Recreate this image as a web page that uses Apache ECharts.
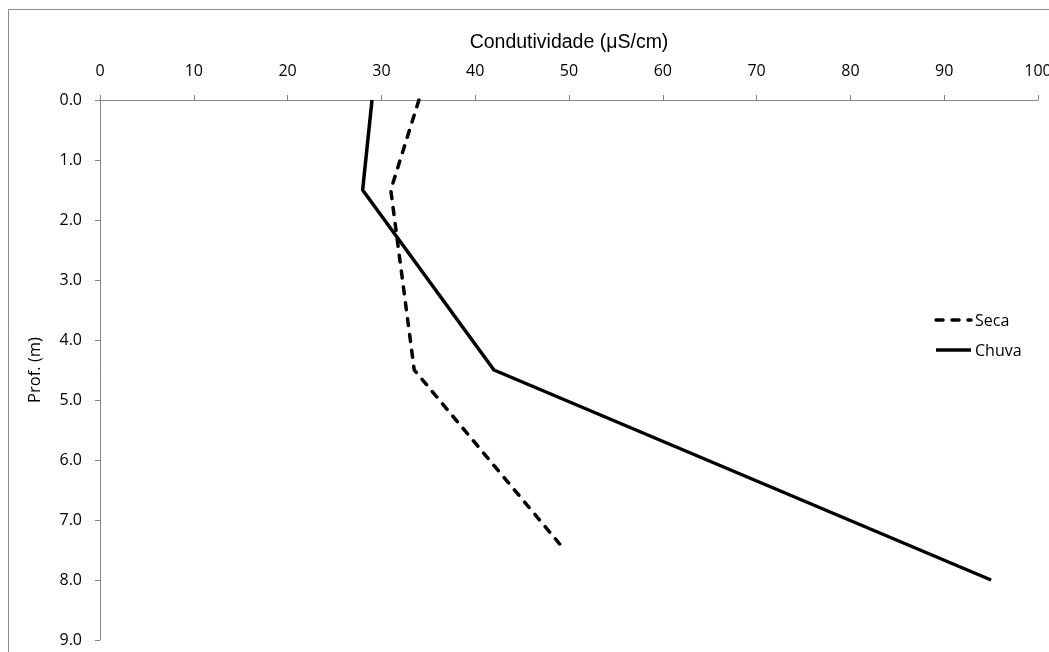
<!DOCTYPE html>
<html>
<head>
<meta charset="utf-8">
<script src="https://cdn.jsdelivr.net/npm/echarts@6/dist/echarts.min.js"></script>
<style>
  html, body { margin: 0; padding: 0; background: #fff; }
  #chart { width: 1049px; height: 652px; }
</style>
</head>
<body>
<div id="chart"></div>
<script>
// Depth profiles of electrical conductivity
const depthSeca = [0, 1.5, 4.5, 7.4];
const condSeca = [34, 31, 33.5, 49];
const depthChuva = [0, 1.5, 4.5, 8];
const condChuva = [29, 28, 42, 95];
const xTicks = [0, 10, 20, 30, 40, 50, 60, 70, 80, 90, 100];
const yTicks = [0, 1, 2, 3, 4, 5, 6, 7, 8, 9];
const seriesNames = ['Seca', 'Chuva'];

const pairs = (xs, ys) => xs.map((x, i) => [x, ys[i]]);

const axisGray = '#868686';
const labelFont = '"Open Sans", "DejaVu Sans", sans-serif';
const dashPattern = [7, 9];
const lineW = 3.5;

// Hand-drawn legend: a line sample followed by the series name
function legendItem(name, y, dashed) {
  return [
    {
      type: 'line',
      shape: { x1: 936, y1: y, x2: 971, y2: y },
      style: { stroke: '#000', lineWidth: lineW, lineDash: dashed ? dashPattern : null, lineCap: dashed ? 'round' : 'butt' },
      silent: true
    },
    {
      type: 'text',
      x: 975,
      y: y + 1,
      style: { text: name, font: '16px ' + labelFont, fill: '#000', verticalAlign: 'middle', align: 'left' },
      silent: true
    }
  ];
}

const chart = echarts.init(document.getElementById('chart'), null, { renderer: 'canvas' });
chart.setOption({
  animation: false,
  backgroundColor: '#fff',
  grid: { left: 100, top: 100, right: 11, bottom: 12, outerBoundsMode: 'none', containLabel: false },
  graphic: [
    {
      type: 'rect',
      shape: { x: 8.5, y: 9.5, width: 1100, height: 700 },
      style: { fill: 'none', stroke: '#8c8c8c', lineWidth: 1 },
      silent: true
    },
    ...legendItem(seriesNames[0], 320, true),
    ...legendItem(seriesNames[1], 350, false)
  ],
  xAxis: {
    type: 'value',
    position: 'top',
    min: xTicks[0],
    max: xTicks[xTicks.length - 1],
    interval: 10,
    name: 'Condutividade (μS/cm)',
    nameLocation: 'middle',
    nameGap: 47,
    nameTextStyle: { fontFamily: '"Liberation Sans", Arial, sans-serif', fontSize: 19.5, color: '#000' },
    axisLine: { show: true, lineStyle: { color: axisGray, width: 1 } },
    axisTick: { show: true, length: 5, lineStyle: { color: axisGray } },
    axisLabel: { margin: 21, fontFamily: labelFont, fontSize: 16, color: '#000' },
    splitLine: { show: false }
  },
  yAxis: {
    type: 'value',
    inverse: true,
    min: yTicks[0],
    max: yTicks[yTicks.length - 1],
    interval: 1,
    name: 'Prof. (m)',
    nameLocation: 'middle',
    nameGap: 56,
    nameRotate: 90,
    nameTextStyle: { fontFamily: labelFont, fontSize: 16.5, color: '#000' },
    axisLine: { show: true, lineStyle: { color: axisGray, width: 1 } },
    axisTick: { show: true, length: 5, lineStyle: { color: axisGray } },
    axisLabel: { margin: 18, fontFamily: labelFont, fontSize: 16, color: '#000',
      formatter: v => v.toFixed(1) },
    splitLine: { show: false }
  },
  series: [
    {
      name: seriesNames[0],
      type: 'line',
      data: pairs(condSeca, depthSeca),
      symbol: 'none',
      color: '#000',
      lineStyle: { color: '#000', width: lineW, type: dashPattern, cap: 'round' }
    },
    {
      name: seriesNames[1],
      type: 'line',
      data: pairs(condChuva, depthChuva),
      symbol: 'none',
      color: '#000',
      lineStyle: { color: '#000', width: lineW, type: 'solid' }
    }
  ]
});
</script>
</body>
</html>
